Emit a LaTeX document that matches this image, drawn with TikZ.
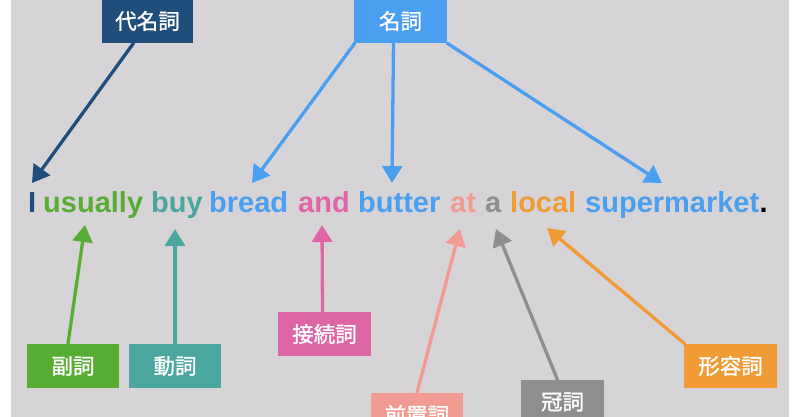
\documentclass[tikz,border=0pt]{standalone}
\usepackage{fontspec}
\setmainfont{Liberation Sans}
\newfontfamily\jpfont[FakeBold=1.2]{Noto Sans CJK JP}
\usetikzlibrary{arrows.meta,calc}
\definecolor{bgc}{HTML}{D6D4D7}
\definecolor{cpron}{HTML}{1F4E7D}
\definecolor{cnoun}{HTML}{4A9FF0}
\definecolor{cadv}{HTML}{58AE34}
\definecolor{cverb}{HTML}{4AA69E}
\definecolor{cconj}{HTML}{DF66A6}
\definecolor{cprep}{HTML}{F29B92}
\definecolor{cart}{HTML}{8E8E8E}
\definecolor{cadj}{HTML}{F09B35}
\tikzset{
  tag/.style={fill=#1, draw=none, text=white, minimum height=44pt, inner sep=0pt,
    font=\jpfont\fontsize{21.5}{24}\selectfont},
  word/.style={text=#1, anchor=base west, inner sep=0pt,
    font=\bfseries\fontsize{29}{34}\selectfont},
  arr/.style={draw=#1, line width=3.3pt, line cap=round,
    -{Triangle[length=17pt,width=20pt]}}
}
\begin{document}
\begin{tikzpicture}[x=1pt,y=-1pt]
\useasboundingbox (0,0) rectangle (800,417);
\clip (0,0) rectangle (800,417);
\fill[white] (0,0) rectangle (800,417);
\fill[bgc] (11,0) rectangle (789,417);

% sentence words
\node[word=cpron] (wI) at (28,212) {I};
\node[word=cadv] (wusually) at (43,212) {usually};
\node[word=cverb] (wbuy) at (151,212) {buy};
\node[word=cnoun] (wbread) at (209,212) {bread};
\node[word=cconj] (wand) at (298,212) {and};
\node[word=cnoun] (wbutter) at (358,212) {butter};
\node[word=cprep] (wat) at (450,212) {at};
\node[word=cart] (wa) at (485,212) {a};
\node[word=cadj] (wlocal) at (510,212) {local};
\node[word=cnoun] (wsuper) at (585,212) {supermarket};
\node[word=black] (wdot) at (wsuper.base east) {.};

% tags
\node[tag=cpron, minimum width=91pt] (pron) at (147.5,21) {代名詞};
\node[tag=cnoun, minimum width=93pt] (noun) at (400.5,21) {名詞};
\node[tag=cadv, minimum width=92pt] (adv) at (73,366) {副詞};
\node[tag=cverb, minimum width=92pt] (verb) at (175,366) {動詞};
\node[tag=cconj, minimum width=93pt] (conj) at (324.5,334) {接続詞};
\node[tag=cprep, minimum width=92pt] (prep) at (417,415) {前置詞};
\node[tag=cart, minimum width=83pt] (art) at (562.5,402) {冠詞};
\node[tag=cadj, minimum width=93pt] (adj) at (730.5,366) {形容詞};

% arrow tips
\coordinate (tI) at (32,183);
\coordinate (tbread) at (252,183);
\coordinate (tbutter) at (392,183);
\coordinate (tsuper) at (662,183);
\coordinate (tusually) at (85,225);
\coordinate (tbuy) at (175,229);
\coordinate (tand) at (322,225);
\coordinate (tat) at (460,229);
\coordinate (ta) at (496,229);
\coordinate (tlocal) at (547,228);

\draw[arr=cpron] ([xshift=-14pt]pron.south) -- (tI);
\draw[arr=cnoun] ([xshift=1pt]noun.south west) -- (tbread);
\draw[arr=cnoun] ([xshift=-7pt]noun.south) -- (tbutter);
\draw[arr=cnoun] (noun.south east) -- (tsuper);
\draw[arr=cadv] ([xshift=-5pt]adv.north) -- (tusually);
\draw[arr=cverb] (verb.north) -- (tbuy);
\draw[arr=cconj] ([xshift=-2pt]conj.north) -- (tand);
\draw[arr=cprep] (prep.north) -- (tat);
\draw[arr=cart] ([xshift=-5pt]art.north) -- (ta);
\draw[arr=cadj] ([xshift=1pt]adj.north west) -- (tlocal);
\end{tikzpicture}
\end{document}
